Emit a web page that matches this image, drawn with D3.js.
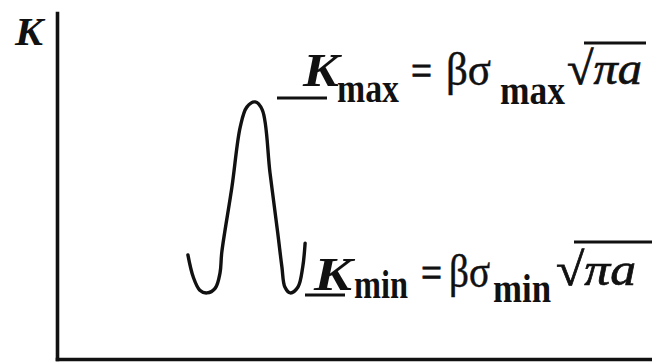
<!DOCTYPE html>
<html>
<head>
<meta charset="utf-8">
<script src="https://cdn.jsdelivr.net/npm/d3@7"></script>
<style>
  html, body { margin: 0; padding: 0; background: #fff; }
  svg { display: block; }
  text { font-family: "Liberation Serif", "Times New Roman", serif; fill: #111; }
</style>
</head>
<body>
<script>
// Stress-intensity factor K over one load cycle (arbitrary units)
const cycleTime = [2.20, 2.29, 2.40, 2.52, 2.66, 2.74, 2.77, 2.94, 3.08, 3.19, 3.33,
                   3.45, 3.58, 3.71, 3.78, 3.83, 3.92, 4.05, 4.13, 4.17];
const cycleK    = [3.01, 2.37, 1.99, 1.91, 2.05, 2.49, 3.09, 4.97, 6.71, 7.28, 7.43,
                   7.20, 5.38, 3.64, 2.66, 2.08, 1.91, 2.08, 2.66, 3.35];
const timeDomain = [0, 10];
const kDomain = [0, 10];
const axisLabel = "K";
const kMax = d3.max(cycleK);
const kMin = d3.min(cycleK);

const W = 652, H = 363;
const svg = d3.select("body").append("svg").attr("width", W).attr("height", H);

const x = d3.scaleLinear().domain(timeDomain).range([57, 652]);
const y = d3.scaleLinear().domain(kDomain).range([359, 13]);

// axes: bare domain lines, no ticks
const gy = svg.append("g").attr("transform", `translate(${x(0)},0)`)
  .call(d3.axisLeft(y).ticks(0).tickSize(0).tickSizeOuter(0));
const gx = svg.append("g").attr("transform", `translate(0,${y(0)})`)
  .call(d3.axisBottom(x).ticks(0).tickSize(0).tickSizeOuter(0));
[gy, gx].forEach(g => g.select(".domain")
  .attr("stroke", "#111").attr("stroke-width", 3.6).attr("stroke-linecap", "square"));

svg.append("text").text(axisLabel)
  .attr("x", 15).attr("y", 45)
  .attr("font-size", 40).attr("font-weight", "bold").attr("font-style", "italic")
  .attr("textLength", 28).attr("lengthAdjust", "spacingAndGlyphs");

// K(t) waveform
const pts = cycleTime.map((t, i) => [t, cycleK[i]]);
svg.append("path")
  .datum(pts)
  .attr("fill", "none").attr("stroke", "#111").attr("stroke-width", 3.4)
  .attr("stroke-linecap", "round").attr("stroke-linejoin", "round")
  .attr("d", d3.line().x(d => x(d[0])).y(d => y(d[1])).curve(d3.curveCatmullRom.alpha(0.5)));

// one <text> per formula; each glyph run is a tspan placed and fitted on its own
function formula(g, runs) {
  const t = g.append("text");
  runs.forEach(r => {
    const s = t.append("tspan").text(r.s)
      .attr("x", r.x).attr("y", r.y).attr("font-size", r.size)
      .attr("font-weight", r.bold ? "bold" : "normal")
      .attr("font-style", r.italic ? "italic" : "normal")
      .attr("textLength", r.w).attr("lengthAdjust", "spacingAndGlyphs");
    if (r.heavy) s.attr("stroke", "#111").attr("stroke-width", r.heavy);
  });
}
function rule(g, x1, x2, yy, sw) {
  g.append("line").attr("x1", x1).attr("x2", x2).attr("y1", yy).attr("y2", yy)
    .attr("stroke", "#111").attr("stroke-width", sw);
}

// K_max = β σ_max √(πa)
{
  const yb = y(kMax) - 16;           // main baseline
  const g = svg.append("g");
  rule(g, 277, 327, y(kMax) - 4, 3);
  formula(g, [
    { s: "K",   x: 303, y: yb,      size: 46, bold: true, italic: true, w: 36 },
    { s: "max", x: 337, y: yb + 16, size: 40, bold: true, w: 62 },
    { s: "=",   x: 411, y: yb - 1,  size: 44, w: 21, heavy: 0.8 },
    { s: "βσ",  x: 446, y: yb - 1,  size: 46, w: 45, heavy: 0.5 },
    { s: "max", x: 500, y: yb + 18, size: 40, bold: true, w: 65 },
    { s: "√πa", x: 567, y: yb - 2,  size: 46, italic: true, w: 75, heavy: 0.7 }
  ]);
  rule(g, 584, 646, yb - 43, 3);
}

// K_min = β σ_min √(πa)
{
  const yb = y(kMin) - 3;
  const g = svg.append("g");
  rule(g, 305, 345, y(kMin) + 2, 3);
  formula(g, [
    { s: "K",   x: 314, y: yb,      size: 46, bold: true, italic: true, w: 38 },
    { s: "min", x: 354, y: yb + 8,  size: 40, bold: true, w: 54 },
    { s: "=",   x: 421, y: yb - 3,  size: 44, w: 21, heavy: 0.8 },
    { s: "βσ",  x: 449, y: yb - 3,  size: 46, w: 41, heavy: 0.5 },
    { s: "min", x: 493, y: yb + 12, size: 40, bold: true, w: 58 },
    { s: "√πa", x: 556, y: yb - 5,  size: 46, italic: true, w: 80, heavy: 0.7 }
  ]);
  rule(g, 574, 652, yb - 48, 3);
}
</script>
</body>
</html>
